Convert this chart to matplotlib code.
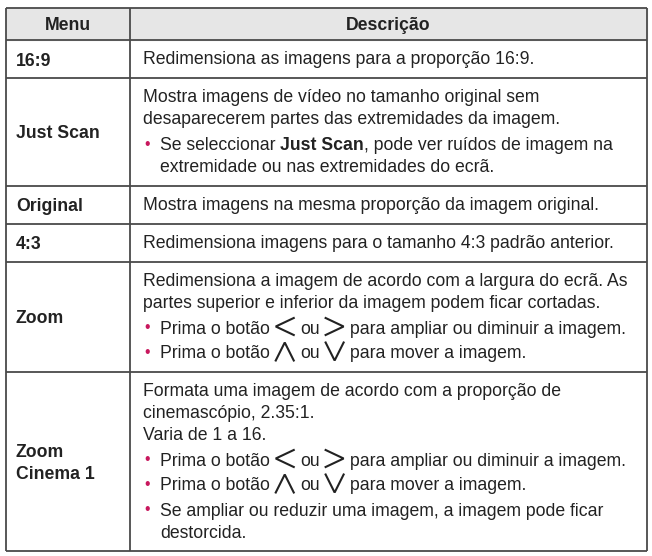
import re
import matplotlib
matplotlib.use("Agg")
import matplotlib.pyplot as plt

plt.rcParams['font.family'] = ['Liberation Sans', 'DejaVu Sans']

# table content
headers = ["Menu", "Descrição"]
menus = ["16:9", "Just Scan", "Original", "4:3", "Zoom", "Zoom\nCinema 1"]
# p = plain line, b = bullet line, c = continuation of bullet
# **..** = bold, {<} {>} {^} {v} = remote button icons
descs = [
    [("p", "Redimensiona as imagens para a proporção 16:9.")],
    [("p", "Mostra imagens de vídeo no tamanho original sem"),
     ("p", "desaparecerem partes das extremidades da imagem."),
     ("b", "Se seleccionar **Just Scan**, pode ver ruídos de imagem na"),
     ("c", "extremidade ou nas extremidades do ecrã.")],
    [("p", "Mostra imagens na mesma proporção da imagem original.")],
    [("p", "Redimensiona imagens para o tamanho 4:3 padrão anterior.")],
    [("p", "Redimensiona a imagem de acordo com a largura do ecrã. As"),
     ("p", "partes superior e inferior da imagem podem ficar cortadas."),
     ("b", "Prima o botão {<} ou {>} para ampliar ou diminuir a imagem."),
     ("b", "Prima o botão {^} ou {v} para mover a imagem.")],
    [("p", "Formata uma imagem de acordo com a proporção de"),
     ("p", "cinemascópio, 2.35:1."),
     ("p", "Varia de 1 a 16."),
     ("b", "Prima o botão {<} ou {>} para ampliar ou diminuir a imagem."),
     ("b", "Prima o botão {^} ou {v} para mover a imagem."),
     ("b", "Se ampliar ou reduzir uma imagem, a imagem pode ficar"),
     ("c", "destorcida.")],
]

W, H = 652, 556
FS = 12.7
TXT = "#222222"
LINE = "#4a4a4a"
PINK = "#c8175d"
X0, XC, X1 = 6, 130, 647
TOP, HEAD_B = 8, 40

fig = plt.figure(figsize=(W / 100, H / 100), dpi=100)
ax = fig.add_axes([0, 0, 1, 1])
ax.set_xlim(0, W)
ax.set_ylim(H, 0)
ax.axis("off")
renderer = fig.canvas.get_renderer()


def width_of(s, bold=False):
    t = ax.text(0, 0, s, fontsize=FS, fontweight="bold" if bold else "normal")
    w = t.get_window_extent(renderer).width
    t.remove()
    return w


space = width_of("a a") - width_of("aa")


def chevron(x, y, kind):
    w, h = 18, 17
    if kind == "<":
        xs, ys = [x + w, x, x + w], [y - h / 2, y, y + h / 2]
    elif kind == ">":
        xs, ys = [x, x + w, x], [y - h / 2, y, y + h / 2]
    elif kind == "^":
        h = 18
        xs, ys = [x, x + w / 2, x + w], [y + h / 2, y - h / 2, y + h / 2]
    else:
        h = 18
        xs, ys = [x, x + w / 2, x + w], [y - h / 2, y + h / 2, y - h / 2]
    ax.plot(xs, ys, color=TXT, lw=1.5, solid_joinstyle="miter")
    return w


def rich(x, y, s):
    base = y + 6
    bold = False
    for tok in re.split(r"(\*\*|\{.\})", s):
        if tok == "**":
            bold = not bold
            continue
        if not tok:
            continue
        if tok.startswith("{"):
            x += 1
            x += chevron(x, y - 1, tok[1]) + 1.5
            continue
        lead = len(tok) - len(tok.lstrip(" "))
        trail = len(tok) - len(tok.rstrip(" "))
        x += lead * space
        core = tok.strip(" ")
        t = ax.text(x, base, core, fontsize=FS, color=TXT, va="baseline",
                    ha="left", fontweight="bold" if bold else "normal")
        x += t.get_window_extent(renderer).width + trail * space


# header
ax.fill_between([X0, X1], TOP, HEAD_B, color="#e6e6e6", zorder=0)
ax.text((X0 + XC) / 2, (TOP + HEAD_B) / 2 + 6, headers[0], fontsize=FS,
        fontweight="bold", color=TXT, ha="center", va="baseline")
ax.text((XC + X1) / 2, (TOP + HEAD_B) / 2 + 6, headers[1], fontsize=FS,
        fontweight="bold", color=TXT, ha="center", va="baseline")

ys = [TOP, HEAD_B]
top = HEAD_B
for menu, lines in zip(menus, descs):
    y = top + 18.5
    prev = None
    for kind, s in lines:
        if prev is not None:
            if kind == "b":
                y += 26 if prev == "p" else 25
            else:
                y += 22 if prev in ("b", "c") else 21.5
        if kind == "b":
            ax.text(147, y, "•", fontsize=FS * 0.9, color=PINK, ha="center", va="center")
        rich(160 if kind in ("b", "c") else 143, y, s)
        prev = kind
    bottom = y + 19.5
    ax.text(16, (top + bottom) / 2 + 2, menu, fontsize=FS, fontweight="bold",
            color=TXT, ha="left", va="center", linespacing=1.4)
    ys.append(bottom)
    top = bottom

for yy in ys:
    ax.plot([X0, X1], [yy, yy], color=LINE, lw=1.3, solid_capstyle="butt")
for xx in (X0, XC, X1):
    ax.plot([xx, xx], [TOP, ys[-1]], color=LINE, lw=1.3, solid_capstyle="butt")

fig.savefig("out.png", dpi=100)
